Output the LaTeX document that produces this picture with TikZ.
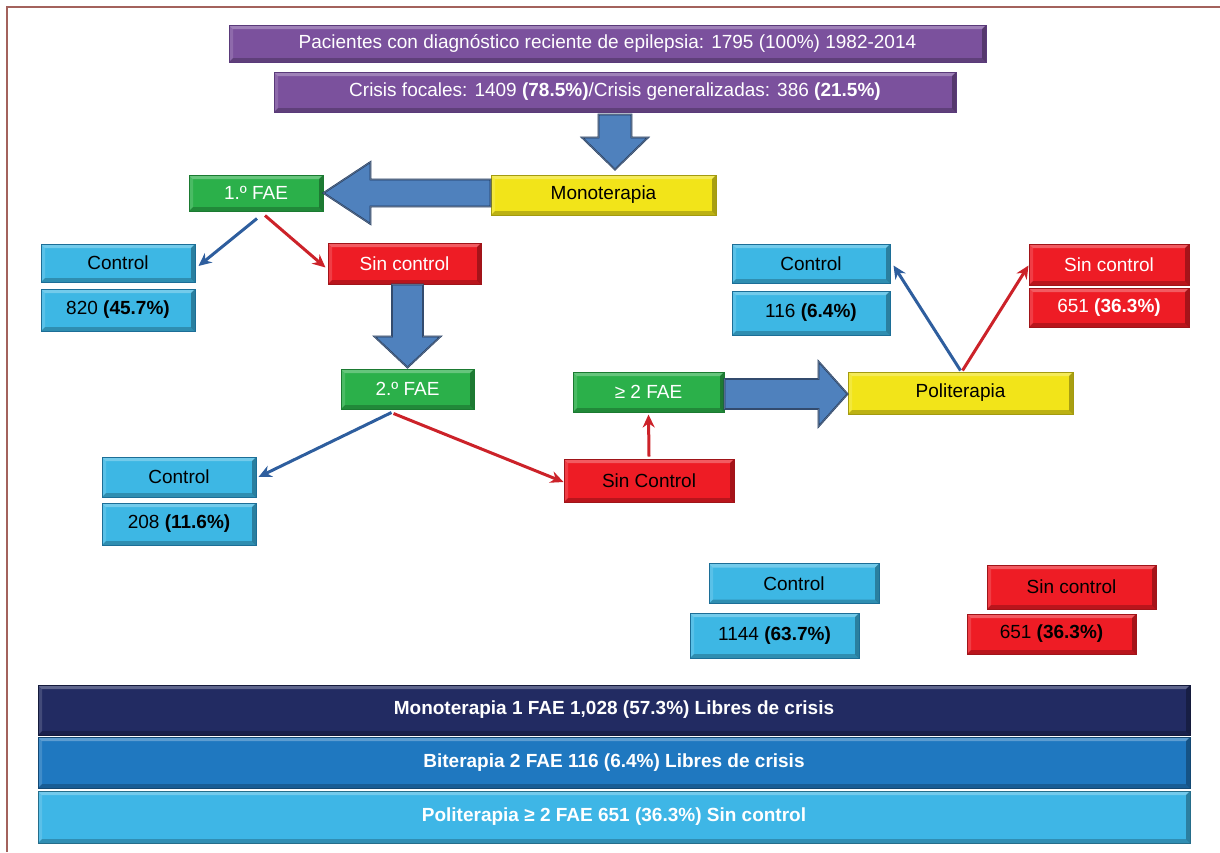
\documentclass[tikz,border=0pt]{standalone}
\usepackage{fontspec}
\setmainfont{Liberation Sans}
\usetikzlibrary{calc,arrows.meta}
\definecolor{purp}{HTML}{7B519D}
\definecolor{purpd}{HTML}{5A3A7A}
\definecolor{cyanb}{HTML}{3DB7E4}
\definecolor{cyand}{HTML}{1C6E97}
\definecolor{redb}{HTML}{EE1C25}
\definecolor{redd}{HTML}{A01419}
\definecolor{greenb}{HTML}{2BB04A}
\definecolor{greend}{HTML}{1B7A31}
\definecolor{yellowb}{HTML}{F2E419}
\definecolor{yellowd}{HTML}{A39A10}
\definecolor{navy}{HTML}{222B62}
\definecolor{midblue}{HTML}{1F78C0}
\definecolor{lightblue}{HTML}{3EB6E6}
\definecolor{arrowb}{HTML}{4F81BD}
\definecolor{arrowd}{HTML}{1F3A60}
\definecolor{thinblue}{HTML}{2E5E9E}
\definecolor{thinred}{HTML}{CC2229}
\definecolor{framec}{HTML}{A3625C}
\newcommand\fsz{\fontsize{19}{22}\selectfont}
\tikzset{
  sz/.style 2 args={minimum width=#1, minimum height=#2},
  bev/.style={path picture={
    \fill[white,opacity=.28] (path picture bounding box.north west) -- (path picture bounding box.north east)
      -- ([shift={(-4pt,-4pt)}]path picture bounding box.north east) -- ([shift={(4pt,-4pt)}]path picture bounding box.north west) -- cycle;
    \fill[white,opacity=.15] (path picture bounding box.north west) -- (path picture bounding box.south west)
      -- ([shift={(4pt,4pt)}]path picture bounding box.south west) -- ([shift={(4pt,-4pt)}]path picture bounding box.north west) -- cycle;
    \fill[black,opacity=.22] (path picture bounding box.south west) -- (path picture bounding box.south east)
      -- ([shift={(-4pt,4pt)}]path picture bounding box.south east) -- ([shift={(4pt,4pt)}]path picture bounding box.south west) -- cycle;
    \fill[black,opacity=.3] (path picture bounding box.south east) -- (path picture bounding box.north east)
      -- ([shift={(-4pt,-4pt)}]path picture bounding box.north east) -- ([shift={(-4pt,4pt)}]path picture bounding box.south east) -- cycle;
  }},
  box/.style={rectangle, inner sep=0pt, font=\fsz, bev, line width=1pt},
  purplebox/.style={box, fill=purp, draw=purpd, text=white},
  cyanbox/.style={box, fill=cyanb, draw=cyand, text=black},
  redbox/.style={box, fill=redb, draw=redd, text=white},
  redboxk/.style={box, fill=redb, draw=redd, text=black},
  greenbox/.style={box, fill=greenb, draw=greend, text=white},
  yellowbox/.style={box, fill=yellowb, draw=yellowd, text=black},
  barbox/.style={box, minimum width=1152, text=white, font=\fsz\bfseries, draw=black!40!#1, fill=#1},
  bigarrow/.style={fill=arrowb, draw=arrowd, line width=1.8pt, line join=miter,
    postaction={draw=white, opacity=.25, line width=.8pt}},
  thin/.style={line width=3pt, -{Stealth[length=13pt,width=12pt]}},
  tblue/.style={thin, draw=thinblue},
  tred/.style={thin, draw=thinred},
}
\begin{document}
\begin{tikzpicture}[x=1pt,y=-1pt]
\useasboundingbox (0,0) rectangle (1220,852);
\draw[framec, line width=2pt] (7,852) -- (7,7) -- (1220,7);

% top boxes
\node[purplebox, sz={757}{37}] (p1) at (607.5,43.5) {Pacientes con diagnóstico reciente de epilepsia: 1795 (100\%) 1982-2014};
\node[purplebox, sz={682}{40}] (p2) at (615,92) {Crisis focales: 1409 \textbf{(78.5\%)}/Crisis generalizadas: 386 \textbf{(21.5\%)}};

\node[yellowbox, sz={225}{40}] (mono) at (603.5,195) {Monoterapia};
\node[greenbox, sz={134}{36}] (fae1) at (256,193) {1.º FAE};

\node[cyanbox, sz={154}{38}] (c1) at (118,263) {Control};
\node[cyanbox, sz={154}{42}] (n1) at (118,310) {820 \textbf{(45.7\%)}};
\node[redbox, sz={153}{41}] (sc1) at (404.5,263.5) {Sin control};

\node[greenbox, sz={133}{40}] (fae2) at (407.5,389) {2.º FAE};
\node[cyanbox, sz={154}{40}] (c2) at (179,477) {Control};
\node[cyanbox, sz={154}{42}] (n2) at (179,524) {208 \textbf{(11.6\%)}};
\node[redboxk, sz={170}{43}] (sc2) at (649,480.5) {Sin Control};

\node[greenbox, sz={151}{40}] (fae3) at (648.5,392) {≥ 2 FAE};
\node[yellowbox, sz={225}{42}] (poli) at (960.5,393) {Politerapia};

\node[cyanbox, sz={158}{39}] (c3) at (811,263.5) {Control};
\node[cyanbox, sz={158}{44}] (n3) at (811,313) {116 \textbf{(6.4\%)}};
\node[redbox, sz={160}{41}] (sc3) at (1109,264.5) {Sin control};
\node[redbox, sz={160}{39}] (n4) at (1109,307.5) {651 \textbf{(36.3\%)}};

\node[cyanbox, sz={170}{40}] (c4) at (794,583.5) {Control};
\node[cyanbox, sz={169}{45}] (n5) at (774.5,635.5) {1144 \textbf{(63.7\%)}};
\node[redboxk, sz={169}{44}] (sc4) at (1071.5,587) {Sin control};
\node[redboxk, sz={169}{40}] (n6) at (1051.5,634) {651 \textbf{(36.3\%)}};

\node[barbox=navy, minimum height=50] (b1) at (614,710) {Monoterapia 1 FAE 1,028 (57.3\%) Libres de crisis};
\node[barbox=midblue, minimum height=51] (b2) at (614,762.5) {Biterapia 2 FAE 116 (6.4\%) Libres de crisis};
\node[barbox=lightblue, minimum height=52] (b3) at (614,817) {Politerapia ≥ 2 FAE 651 (36.3\%) Sin control};

% big block arrows
\draw[bigarrow] let \p1=($(p2.south)+(0,2)$), \p2=($(mono.north)+(0,-5)$) in
  (\x1-16.5pt,\y1) -- (\x1+16.5pt,\y1) -- (\x1+16.5pt,\y2+32pt) -- (\x1+33pt,\y2+32pt)
  -- (\x1,\y2) -- (\x1-33pt,\y2+32pt) -- (\x1-16.5pt,\y2+32pt) -- cycle;
\draw[bigarrow] let \p1=(sc1.south), \p2=($(fae2.north)+(0,-1)$) in
  (\x2-15.5pt,\y1) -- (\x2+15.5pt,\y1) -- (\x2+15.5pt,\y2+31pt) -- (\x2+33pt,\y2+31pt)
  -- (\x2,\y2) -- (\x2-33pt,\y2+31pt) -- (\x2-15.5pt,\y2+31pt) -- cycle;
\draw[bigarrow] let \p1=(mono.west), \p2=(fae1.east) in
  (\x1,\y2+13.5pt) -- (\x1,\y2-13.5pt) -- (\x2+47pt,\y2-13.5pt) -- (\x2+47pt,\y2-31pt)
  -- (\x2,\y2) -- (\x2+47pt,\y2+31pt) -- (\x2+47pt,\y2+13.5pt) -- cycle;
\draw[bigarrow] let \p1=(fae3.east), \p2=(poli.west) in
  (\x1,\y2-1pt+15pt) -- (\x2-29pt,\y2-1pt+15pt) -- (\x2-29pt,\y2-1pt+32.5pt)
  -- (\x2,\y2-1pt) -- (\x2-29pt,\y2-1pt-32.5pt) -- (\x2-29pt,\y2-1pt-15pt) -- (\x1,\y2-1pt-15pt) -- cycle;

% thin arrows
\draw[tblue] ($(fae1.south)+(1,7)$) -- ($(c1.east)+(3,3)$);
\draw[tred] ($(fae1.south)+(9,4)$) -- ($(sc1.west)+(-2,4)$);
\draw[tblue] ($(fae2.south)+(-16,3)$) -- ($(c2.east)+(2,0)$);
\draw[tred] ($(fae2.south)+(-14,4)$) -- ($(sc2.west)+(0,1.5)$);
\draw[tred] ($(sc2.north)+(0,-2)$) -- ($(fae3.south)+(0,2)$);
\draw[tblue] ($(poli.north)+(0,-1)$) -- ($(c3.east)+(3,2)$);
\draw[tred] ($(poli.north)+(2,-1)$) -- ($(sc3.west)+(0,1)$);
\end{tikzpicture}
\end{document}
